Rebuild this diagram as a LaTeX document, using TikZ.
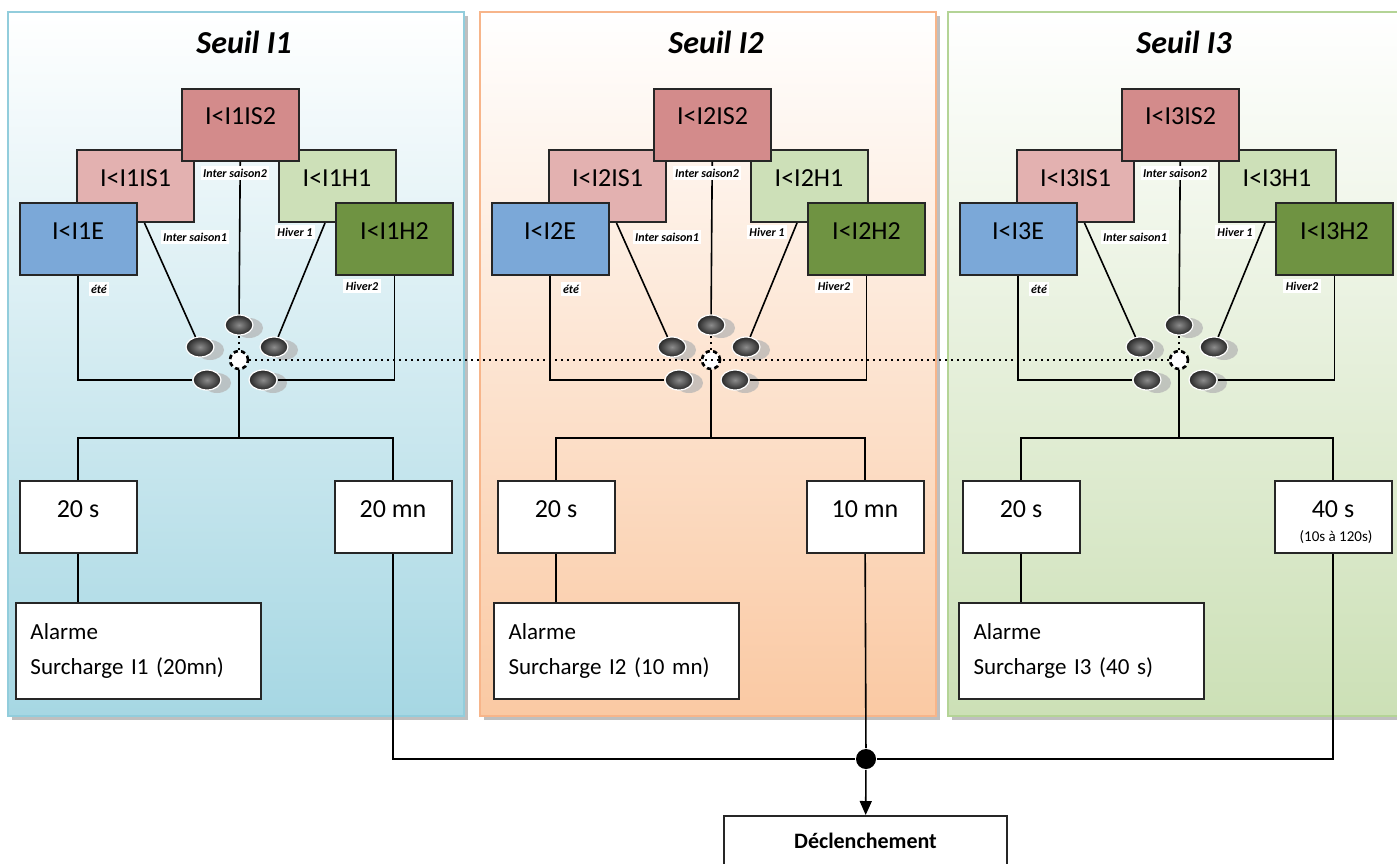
\documentclass[tikz,border=0pt]{standalone}
\usepackage{fontspec}
\setmainfont{Carlito}
\usepackage{xcolor}
\usetikzlibrary{arrows.meta,shapes.geometric,shadows}
\definecolor{bleu}{HTML}{A6D7E3}
\definecolor{bleuB}{HTML}{92CDDC}
\definecolor{peche}{HTML}{FAC9A3}
\definecolor{pecheB}{HTML}{F7B58A}
\definecolor{vert}{HTML}{CCE0B6}
\definecolor{vertB}{HTML}{B4D496}
\definecolor{rougeF}{HTML}{D38B8B}
\definecolor{rougeC}{HTML}{E3B1B0}
\definecolor{vertC}{HTML}{CDE0B8}
\definecolor{bleuE}{HTML}{7BA8D8}
\definecolor{vertF}{HTML}{6F9342}

\begin{document}
\begin{tikzpicture}[x=0.5pt,y=-0.5pt,line width=0.8pt]
         \tikzset{titre/.style={font=\fontsize{16}{19}\selectfont\bfseries\itshape}}
         \tikzset{seuil/.style={draw=black!85,line width=1pt,minimum width=58.5pt,minimum height=36pt,inner sep=0pt,text height=9pt,text depth=9pt,font=\fontsize{13}{15}\selectfont}}
         \tikzset{tempo/.style={seuil,fill=white}}
         \tikzset{alarme/.style={draw=black!85,line width=1pt,fill=white,minimum height=48pt,text width=108pt,inner xsep=7.25pt,align=left,font=\fontsize{11.5}{17.5}\selectfont}}
         \tikzset{etiq/.style={fill=white,inner sep=1.2pt,font=\fontsize{6}{7}\selectfont\bfseries\itshape}}
         \tikzset{contact/.style={ellipse,minimum width=14pt,minimum height=10pt,inner sep=0pt,draw=white,line width=.6pt,inner color=black!45,outer color=black!85,drop shadow={shadow xshift=5pt,shadow yshift=-1.5pt,fill=black!30,opacity=.7}}}
         \tikzset{pivot/.style={circle,minimum size=9pt,inner sep=0pt,fill=white,draw=black,line width=1.3pt,dash pattern=on 2.2pt off 1.6pt}}
         \useasboundingbox (0,0) rectangle (1397,863);
         \foreach \n/\dx/\dl/\fond/\bord/\delai/\alarme in {
            1/0/0/bleu/bleuB/20 mn/Surcharge I1 (20mn),
            2/472/478/peche/pecheB/10 mn/Surcharge I2 (10 mn),
            3/940/943/vert/vertB/40 s/Surcharge I3 (40 s)}{
            \fill[black!25] (12+\dx,16) rectangle (468+\dx,720);
            \draw[\bord,line width=1pt,top color=white,bottom color=\fond] (8+\dx,12) rectangle (464+\dx,716);
            \node[titre,anchor=base] (titre-\n) at (244+\dx,53) {Seuil I\n};
            \node[seuil,fill=rougeC] (is1-\n) at (135.5+\dx,186) {I<I\n IS1};
            \node[seuil,fill=vertC] (h1-\n) at (337+\dx,186) {I<I\n H1};
            \node[seuil,fill=rougeF] (is2-\n) at (240.5+\dx,124.5) {I<I\n IS2};
            \node[seuil,fill=bleuE] (e-\n) at (78+\dx,239) {I<I\n E};
            \node[seuil,fill=vertF] (h2-\n) at (394.5+\dx,239) {I<I\n H2};
            \node[contact] (cis2-\n) at (239+\dx,325) {};
            \node[contact] (cis1-\n) at (200+\dx,347) {};
            \node[contact] (ch1-\n) at (274+\dx,347) {};
            \node[contact] (ce-\n) at (207+\dx,380) {};
            \node[contact] (ch2-\n) at (263+\dx,380) {};
            \node[pivot] (piv-\n) at (239+\dx,360) {};
            \draw (e-\n) |- (ce-\n);
            \draw ([xshift=4.5pt]is1-\n.south) -- (cis1-\n);
            \draw (is2-\n) -- (cis2-\n);
            \draw ([xshift=-6pt]h1-\n.south) -- (ch1-\n);
            \draw (h2-\n) |- (ch2-\n);
            \draw[dotted,line width=1pt] (piv-\n) -- (cis2-\n);
            \node[etiq] (lis2-\n) at (235+\dx,173) {Inter saison2};
            \node[etiq] (lis1-\n) at (195+\dx,237) {Inter saison1};
            \node[etiq] (lh1-\n) at (295+\dx,232) {Hiver 1};
            \node[etiq] (le-\n) at (99+\dx,289) {été};
            \node[etiq] (lh2-\n) at (362+\dx,286) {Hiver2};
            \node[tempo] (court-\n) at (78+\dl,517) {20 s};
            \node[tempo] (long-\n) at (393+\dx,517) {\delai};
            \node[alarme] (al-\n) at (138.5+\dl,651) {Alarme\\\alarme};
            \coordinate (bar-\n) at (239+\dx,438);
            \draw (piv-\n) -- (bar-\n);
            \draw (court-\n) |- (bar-\n) -| (long-\n);
            \draw (court-\n) -- (court-\n |- al-\n.north);
         }
         \draw[dotted,line width=1pt] (piv-1) -- (piv-3);
         \node[anchor=base,inner sep=0pt,font=\fontsize{7.5}{9}\selectfont] (gamme) at (1336,541) {(10s à 120s)};
         \node[circle,fill=black,minimum size=10pt,inner sep=0pt] (jonction) at (866,759) {};
         \node[tempo,minimum width=141.5pt,minimum height=32pt,font=\fontsize{11}{13}\selectfont\bfseries] (declenchement) at (865.5,848) {Déclenchement};
         \draw (long-1) |- (jonction) -| (long-3);
         \draw (long-2) -- (jonction);
         \draw[-{Triangle[length=7pt,width=6pt]}] (jonction) -- (declenchement);
      \end{tikzpicture}
\end{document}
